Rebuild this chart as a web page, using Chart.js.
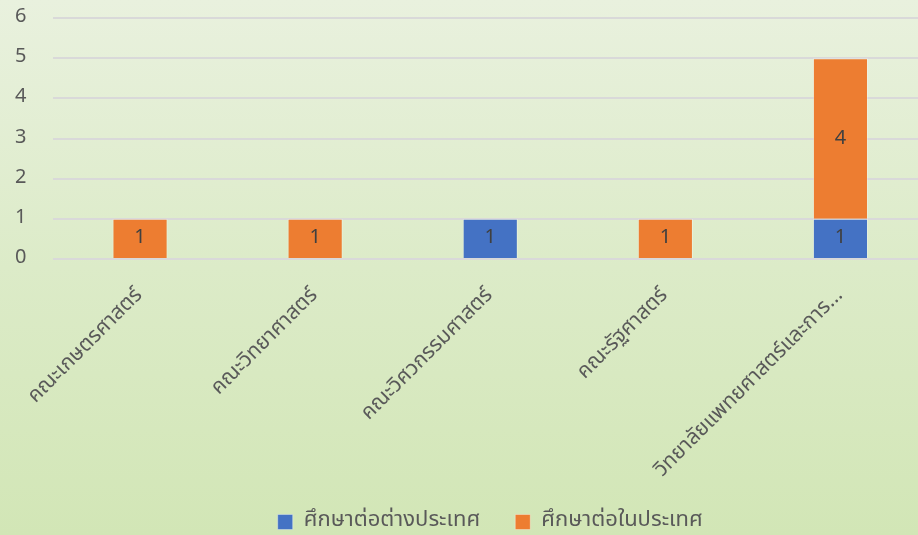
<!DOCTYPE html>
<html>
<head>
<meta charset="utf-8">
<script src="https://cdn.jsdelivr.net/npm/chart.js@4/dist/chart.umd.min.js"></script>
<style>
  html, body { margin: 0; padding: 0; overflow: hidden; }
  body {
    width: 918px; height: 535px;
    background: linear-gradient(to bottom, #e9f1de 0%, #dcebc8 50%, #d2e6b6 100%);
  }
  #wrap { position: relative; width: 928px; height: 535px; }
</style>
</head>
<body>
<div id="wrap"><canvas id="myChart"></canvas></div>
<script>
var faculties = ['คณะเกษตรศาสตร์', 'คณะวิทยาศาสตร์', 'คณะวิศวกรรมศาสตร์', 'คณะรัฐศาสตร์', 'วิทยาลัยแพทยศาสตร์และการ...'];
var abroad = [null, null, 1, null, 1];
var domestic = [1, 1, null, 1, 4];
var yTicks = [0, 1, 2, 3, 4, 5, 6];

var thaiFont = "'Noto Sans Thai', 'Noto Sans', 'DejaVu Sans', sans-serif";

// draws the value in the middle of each bar piece
const valueLabels = {
    id: 'valueLabels',
    afterDatasetsDraw(chart) {
        const ctx = chart.ctx;
        ctx.save();
        ctx.font = '20px ' + thaiFont;
        ctx.fillStyle = '#404040';
        ctx.textAlign = 'center';
        ctx.textBaseline = 'middle';
        chart.data.datasets.forEach(function(ds, i) {
            chart.getDatasetMeta(i).data.forEach(function(bar, j) {
                if (ds.data[j] == null) return;
                var mid = (bar.y + bar.base) / 2;
                ctx.fillText(ds.data[j], bar.x, mid + 1);
            });
        });
        ctx.restore();
    }
};

// legend box sized so the items sit near the bottom edge,
// and the x labels are not clipped at the top of the legend
const legendSize = {
    id: 'legendSize',
    beforeInit(chart) {
        const fit = chart.legend.fit;
        chart.legend.fit = function() {
            fit.bind(chart.legend)();
            this.height = 59;
        };
    },
    afterLayout(chart) {
        chart.scales.x.bottom = chart.height;
    }
};

const config = {
    type: 'bar',
    data: {
        labels: faculties,
        datasets: [{
            label: 'ศึกษาต่อต่างประเทศ',
            data: abroad,
            backgroundColor: '#4472C4',
            borderColor: 'rgba(255,255,255,0.35)',
            borderWidth: 1,
            barPercentage: 0.315,
            categoryPercentage: 1
        }, {
            label: 'ศึกษาต่อในประเทศ',
            data: domestic,
            backgroundColor: '#ED7D31',
            borderColor: 'rgba(255,255,255,0.35)',
            borderWidth: 1,
            barPercentage: 0.315,
            categoryPercentage: 1
        }]
    },
    options: {
        responsive: true,
        maintainAspectRatio: false,
        animation: false,
        layout: { padding: 0 },
        scales: {
            x: {
                stacked: true,
                grid: { display: false },
                border: { display: false },
                afterFit: function(axis) {
                    axis.paddingLeft = 0;
                    axis.paddingRight = 0;
                    axis.height = 217;
                },
                ticks: {
                    color: '#595959',
                    font: { size: 21, family: thaiFont },
                    minRotation: 45,
                    maxRotation: 45,
                    autoSkip: false,
                    padding: 17
                }
            },
            y: {
                stacked: true,
                min: 0,
                max: 6,
                afterBuildTicks: function(axis) {
                    axis.ticks = yTicks.map(function(v) { return { value: v }; });
                },
                afterFit: function(axis) {
                    axis.width = 52.5;
                    axis.paddingTop = 18;
                    axis.paddingBottom = 0;
                },
                grid: { color: '#d9d9d9', lineWidth: 2, drawTicks: false },
                border: { display: false },
                ticks: {
                    color: '#595959',
                    font: { size: 20, family: thaiFont },
                    padding: 26
                }
            }
        },
        plugins: {
            legend: {
                position: 'bottom',
                fullSize: false,
                labels: {
                    color: '#595959',
                    font: { size: 22, family: thaiFont },
                    boxWidth: 15,
                    boxHeight: 15,
                    padding: 35
                }
            },
            tooltip: { enabled: false }
        }
    },
    plugins: [valueLabels, legendSize]
};

const myChart = new Chart(document.getElementById('myChart'), config);
</script>
</body>
</html>
